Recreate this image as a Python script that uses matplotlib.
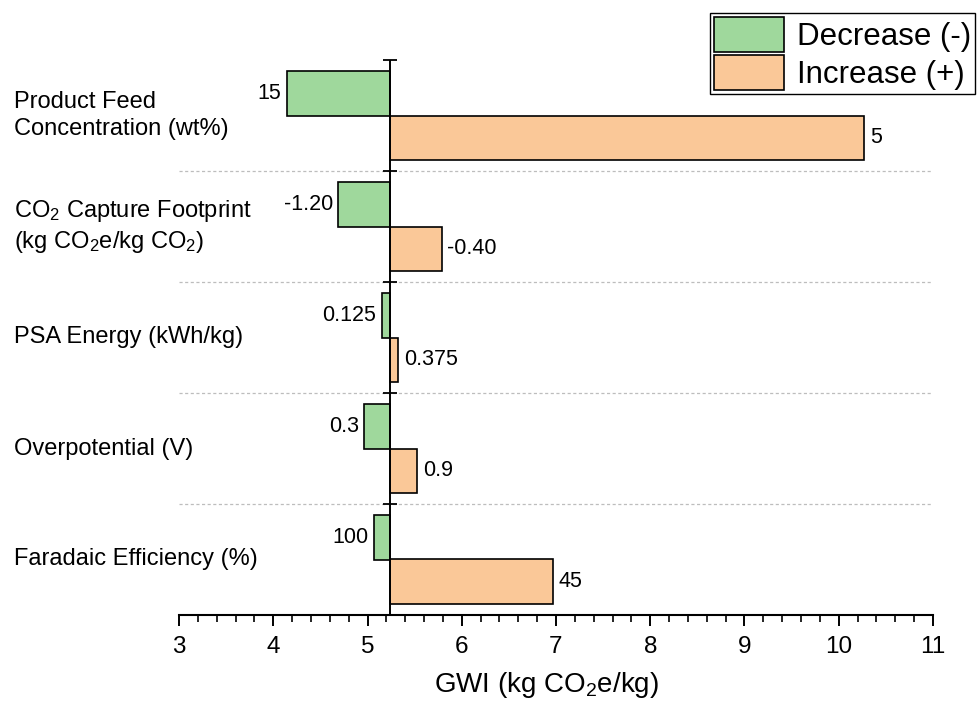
import matplotlib
matplotlib.use("Agg")
import matplotlib.pyplot as plt
from matplotlib import transforms
from matplotlib.ticker import MultipleLocator

plt.rcParams['font.family'] = ['Liberation Sans', 'DejaVu Sans']
plt.rcParams['mathtext.fontset'] = 'custom'
plt.rcParams['mathtext.rm'] = 'Liberation Sans'
plt.rcParams['mathtext.it'] = 'Liberation Sans:italic'

# data (top row first)
categories = ["Product Feed\nConcentration (wt%)",
              "CO$_\\mathrm{2}$ Capture Footprint\n(kg CO$_\\mathrm{2}$e/kg CO$_\\mathrm{2}$)",
              "PSA Energy (kWh/kg)",
              "Overpotential (V)",
              "Faradaic Efficiency (%)"]
base_gwi = 5.24
low_gwi = [4.143, 4.691, 5.150, 4.966, 5.069]
high_gwi = [10.271, 5.787, 5.327, 5.529, 6.968]
low_labels = ["15", "-1.20", "0.125", "0.3", "100"]
high_labels = ["5", "-0.40", "0.375", "0.9", "45"]

green = "#9fd89c"
orange = "#fac898"

fig = plt.figure(figsize=(9.79, 7.06), dpi=100)
ax = fig.add_axes([179/979, 91/706, 754/979, 555/706])

n = len(categories)
centers = [n - 1 - i + 0.5 for i in range(n)]
y_low = [c + 0.2 for c in centers]
y_high = [c - 0.2 for c in centers]

b1 = ax.barh(y_low, [v - base_gwi for v in low_gwi], left=base_gwi, height=0.4,
             color=green, edgecolor='black', linewidth=1.2, label='Decrease (-)', zorder=3)
b2 = ax.barh(y_high, [v - base_gwi for v in high_gwi], left=base_gwi, height=0.4,
             color=orange, edgecolor='black', linewidth=1.2, label='Increase (+)', zorder=3)

for x, y, t in zip(low_gwi, y_low, low_labels):
    ax.annotate(t, (x, y), xytext=(-4, 0), textcoords='offset points',
                ha='right', va='center', fontsize=15.5)
for x, y, t in zip(high_gwi, y_high, high_labels):
    ax.annotate(t, (x, y), xytext=(4, 0), textcoords='offset points',
                ha='left', va='center', fontsize=15.5)

# row separators
for k in range(1, n):
    ax.axhline(k, color='#bdbdbd', lw=0.9, ls=(0, (2.5, 2)), zorder=1)

# centre line with small ticks at row edges
ax.axvline(base_gwi, color='black', lw=1.4, zorder=4)
ax.plot([base_gwi] * n, list(range(1, n + 1)), ls='none', marker='_',
        markersize=10, markeredgewidth=1.3, color='black', clip_on=False, zorder=4)

# category labels at the left of the figure
trans = transforms.blended_transform_factory(fig.transFigure, ax.transData)
for c, lab in zip(centers, categories):
    ax.text(14/979, c, lab, transform=trans, ha='left', va='center',
            fontsize=17, linespacing=1.25)

ax.set_xlim(3, 11)
ax.set_ylim(0, n)
ax.set_yticks([])
for s in ['left', 'top', 'right']:
    ax.spines[s].set_visible(False)
ax.spines['bottom'].set_linewidth(1.5)
ax.xaxis.set_major_locator(MultipleLocator(1))
ax.xaxis.set_minor_locator(MultipleLocator(0.2))
ax.tick_params(axis='x', which='major', length=8, width=1.4, pad=7, labelsize=17.5)
ax.tick_params(axis='x', which='minor', length=5, width=1.2)
ax.set_xlabel('GWI (kg CO$_\\mathrm{2}$e/kg)', fontsize=20, labelpad=9)
ax.xaxis.label.set_x(0.487)

leg = ax.legend(handles=[b1, b2], loc='upper right',
                bbox_to_anchor=(975/979, 1 - 13/706), bbox_transform=fig.transFigure,
                fontsize=22.5, frameon=True, fancybox=False, framealpha=1,
                edgecolor='black', borderaxespad=0, borderpad=0.12,
                handlelength=2.25, handleheight=1.35, handletextpad=0.4,
                labelspacing=0.1)
leg.get_frame().set_linewidth(1.0)

fig.savefig('out.png', dpi=100)
